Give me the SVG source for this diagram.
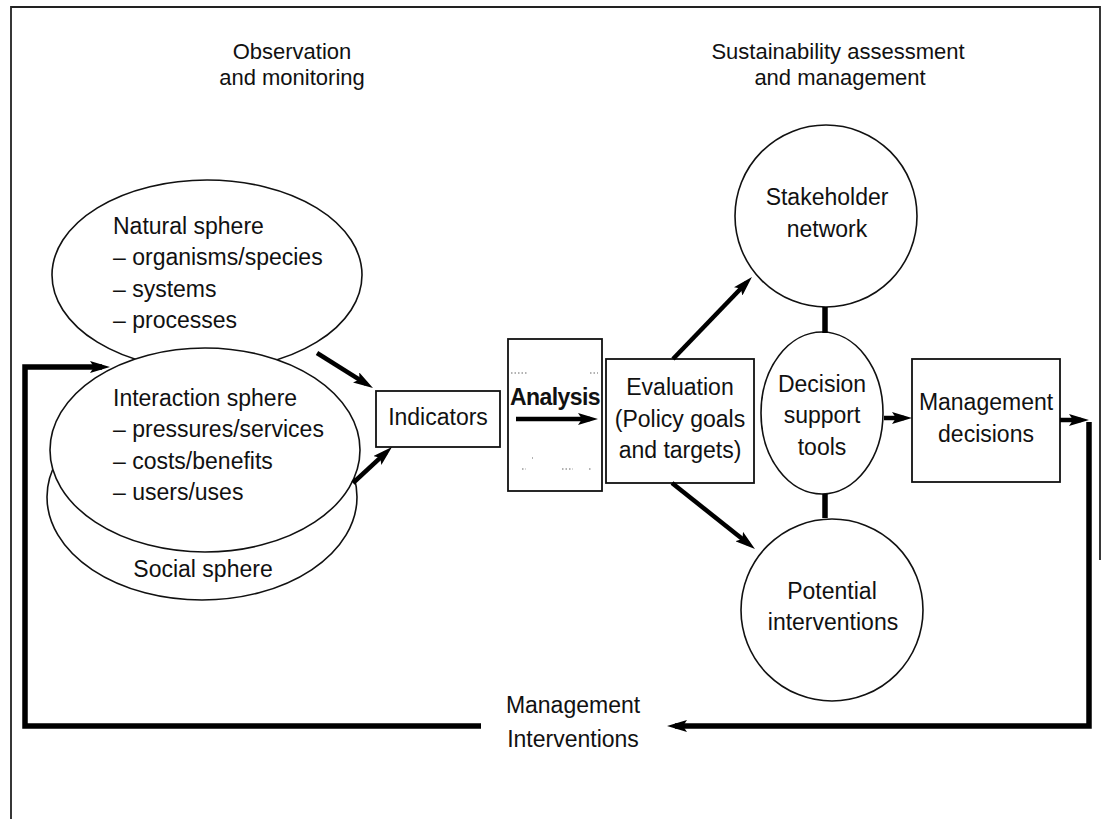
<svg xmlns="http://www.w3.org/2000/svg" width="1106" height="819" viewBox="0 0 1106 819">
<style>
text{font-family:"Liberation Sans",Arial,sans-serif;font-size:23px;fill:#111}
.h{font-size:22px}
.c{text-anchor:middle}
.shape{fill:#fff;stroke:#111;stroke-width:1.6}
.box{fill:#fff;stroke:#111;stroke-width:1.8}
.conn{fill:none;stroke:#000;stroke-width:4.5}
.thick{fill:none;stroke:#000;stroke-width:5.5}
.frame{fill:none;stroke:#222;stroke-width:1.8}
.speck{stroke:#666;stroke-width:1.2;stroke-dasharray:1.5 2}
</style>
<defs>
<marker id="ah" viewBox="0 0 20 12" refX="12" refY="6" markerWidth="20" markerHeight="12" markerUnits="userSpaceOnUse" orient="auto">
<path d="M0,0 L20,6 L0,12 L4,6 z" fill="#000"/>
</marker>
</defs>
<path class="frame" d="M11,819 V7 H1100 V560"/>
<g id="header-left"><text class="h c" x="292" y="59">Observation</text><text class="h c" x="292" y="85">and monitoring</text></g>
<g id="header-right"><text class="h c" x="838" y="59">Sustainability assessment</text><text class="h c" x="840" y="85">and management</text></g>
<g id="social-sphere"><ellipse class="shape" cx="202" cy="497" rx="155" ry="103"/><text class="c" x="203" y="577">Social sphere</text></g>
<g id="natural-sphere"><ellipse class="shape" cx="207" cy="275" rx="155" ry="95"/>
<text x="113" y="234">Natural sphere</text><text x="113" y="265">– organisms/species</text><text x="113" y="297">– systems</text><text x="113" y="328">– processes</text></g>
<g id="interaction-sphere"><ellipse class="shape" cx="205" cy="450" rx="155" ry="102"/>
<text x="113" y="406">Interaction sphere</text><text x="113" y="437">– pressures/services</text><text x="113" y="469">– costs/benefits</text><text x="113" y="500">– users/uses</text></g>
<g id="indicators"><rect class="box" x="376" y="391" width="124" height="56"/><text class="c" x="438" y="425">Indicators</text></g>
<g id="analysis"><rect class="box" x="508" y="339" width="94" height="152" stroke-width="2.6"/>
<path class="speck" d="M511,373 H527 M590,373 H598 M522,469 H526 M562,469 H573 M589,469 H592 M532,458 H533"/>
<text class="c" x="555" y="405" font-weight="bold" font-size="20" letter-spacing="-0.6">Analysis</text></g>
<g id="evaluation"><rect class="box" x="606" y="359" width="148" height="124"/><text class="c" x="680" y="395">Evaluation</text><text class="c" x="680" y="427">(Policy goals</text><text class="c" x="680" y="458">and targets)</text></g>
<g id="stakeholder-network"><circle class="shape" cx="826" cy="216" r="91"/><text class="c" x="827" y="205">Stakeholder</text><text class="c" x="827" y="237">network</text></g>
<g id="decision-support-tools"><ellipse class="shape" cx="822" cy="413" rx="61" ry="81"/><text class="c" x="822" y="392">Decision</text><text class="c" x="822" y="423">support</text><text class="c" x="822" y="455">tools</text></g>
<g id="potential-interventions"><circle class="shape" cx="832" cy="610" r="91"/><text class="c" x="832" y="599">Potential</text><text class="c" x="833" y="630">interventions</text></g>
<g id="management-decisions"><rect class="box" x="912" y="359" width="148" height="123"/><text class="c" x="986" y="410">Management</text><text class="c" x="986" y="442">decisions</text></g>
<g id="management-interventions-label"><text class="c" x="573" y="713">Management</text><text class="c" x="573" y="747">Interventions</text></g>
<g id="connectors">
<line class="conn" x1="317" y1="353" x2="366.2" y2="383.8" marker-end="url(#ah)"/>
<line class="conn" x1="353" y1="483" x2="386.1" y2="452.4" marker-end="url(#ah)"/>
<line class="conn" x1="516" y1="419" x2="590" y2="419" marker-end="url(#ah)"/>
<line class="conn" x1="673" y1="359" x2="746.4" y2="282.8" marker-end="url(#ah)"/>
<line class="conn" x1="672" y1="483" x2="748.7" y2="544" marker-end="url(#ah)"/>
<line class="conn" x1="884" y1="418" x2="904" y2="418" marker-end="url(#ah)"/>
<line class="conn" x1="1060" y1="420" x2="1081" y2="420" marker-end="url(#ah)"/>
<line class="thick" x1="825" y1="307" x2="825" y2="333"/>
<line class="thick" x1="825" y1="494" x2="825" y2="518"/>
<path class="thick" d="M1089,422 V726 H675" marker-end="url(#ah)"/>
<path class="thick" d="M481,726 H25 V367 H102" marker-end="url(#ah)"/>
</g>
</svg>
